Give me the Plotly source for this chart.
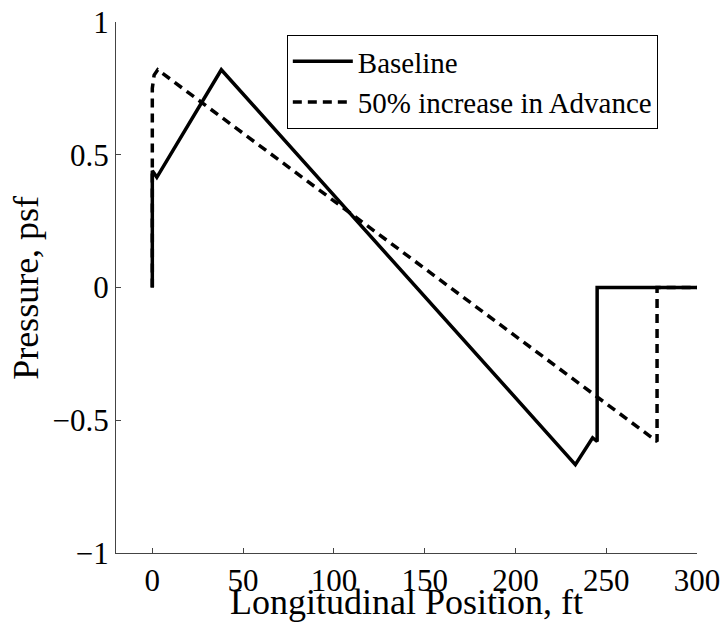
import plotly.graph_objects as go

# Data
baseline_x = [0, 0, 2.5, 38, 233, 242.5, 245, 245, 300]
baseline_y = [0, 0.44, 0.415, 0.82, -0.667, -0.566, -0.58, 0, 0]

advance_x = [0, 0, 1, 3, 278, 278, 300]
advance_y = [0, 0.75, 0.80, 0.82, -0.58, 0, 0]

x_ticks = [0, 50, 100, 150, 200, 250, 300]
y_ticks = [-1, -0.5, 0, 0.5, 1]
y_tick_labels = ["\u22121", "\u22120.5", "0", "0.5", "1"]

x_title = "Longitudinal Position, ft"
y_title = "Pressure, psf"

FONT = "Liberation Serif, Times New Roman, serif"

fig = go.Figure()
fig.add_trace(go.Scatter(x=baseline_x, y=baseline_y, mode="lines", name="Baseline",
                         line=dict(color="black", width=3.5)))
fig.add_trace(go.Scatter(x=advance_x, y=advance_y, mode="lines",
                         name="50% increase in Advance",
                         line=dict(color="black", width=3.5, dash="9px,6px")))

fig.update_layout(
    width=727, height=627,
    margin=dict(l=116, r=30, t=22, b=74),
    paper_bgcolor="white", plot_bgcolor="white",
    font=dict(family=FONT, color="black", size=31),
    showlegend=True,
    legend=dict(x=0.294, y=0.9755, xanchor="left", yanchor="top",
                bordercolor="black", borderwidth=1, bgcolor="white",
                font=dict(family=FONT, size=29), tracegroupgap=0,
                itemwidth=60),
    xaxis=dict(range=[-20, 300], tickvals=x_ticks, showline=True, linecolor="#444",
               linewidth=1, ticks="inside", ticklen=5, tickcolor="#444",
               showgrid=False, zeroline=False, mirror=False, automargin=False,
               ticklabeloverflow="allow", tickfont=dict(size=31)),
    yaxis=dict(range=[-1, 1], tickvals=y_ticks, ticktext=y_tick_labels, showline=True,
               linecolor="#444", linewidth=1, ticks="inside", ticklen=5, tickcolor="#444",
               showgrid=False, zeroline=False, mirror=False, automargin=False,
               ticklabeloverflow="allow", tickfont=dict(size=31)),
    annotations=[
        dict(text=x_title, xref="paper", yref="paper", x=0.5, y=-0.093,
             xanchor="center", yanchor="middle", showarrow=False,
             font=dict(family=FONT, size=36, color="black")),
        dict(text=y_title, xref="paper", yref="paper", x=-0.156, y=0.5,
             xanchor="center", yanchor="middle", textangle=-90, showarrow=False,
             font=dict(family=FONT, size=36, color="black")),
    ],
)

fig.write_html("out.html", config={"displayModeBar": False},
               post_script="document.body.style.margin='0';document.body.style.padding='0';")
